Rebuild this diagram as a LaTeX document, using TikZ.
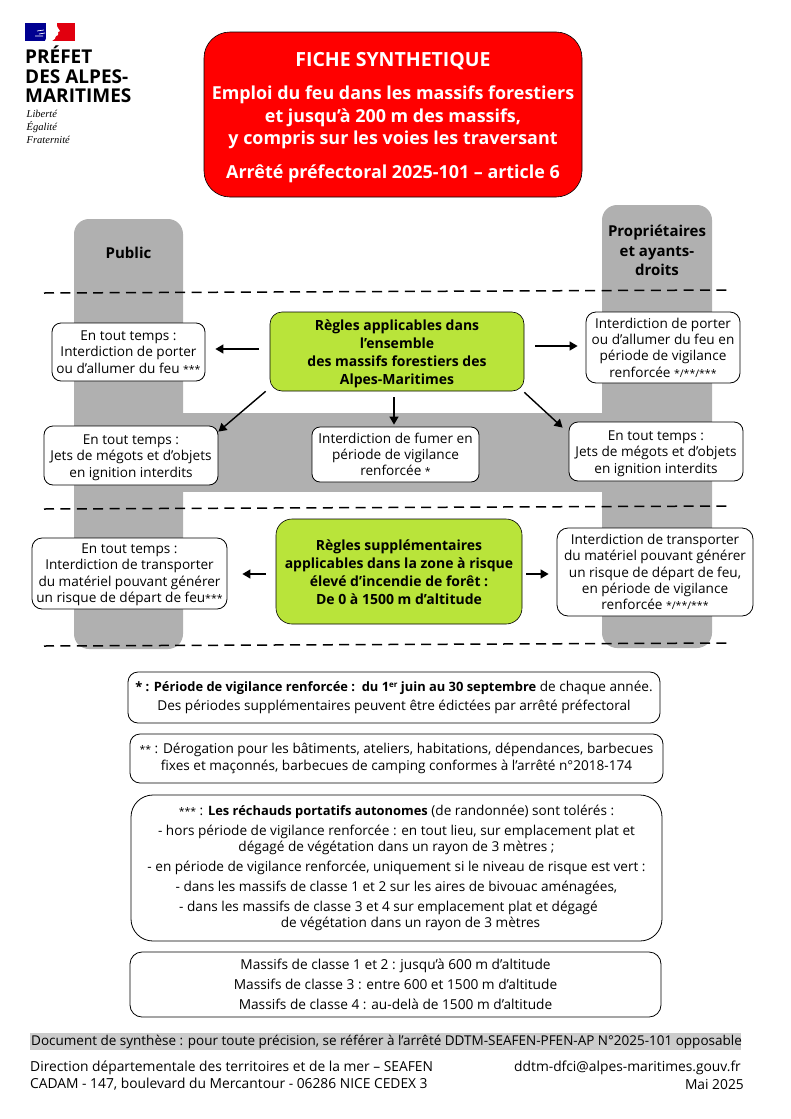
\documentclass[tikz,border=0pt]{standalone}
\usepackage{fontspec}
\setmainfont{Open Sans}
\newfontfamily\serifit{Liberation Serif}
\usetikzlibrary{arrows.meta}
\definecolor{bandgray}{HTML}{B0B0B0}
\definecolor{docgray}{HTML}{CCCCCC}
\definecolor{limeg}{HTML}{B9E43A}
\definecolor{flagblue}{HTML}{000091}
\definecolor{flagred}{HTML}{E1000F}
\newcommand{\fsz}[2]{\fontsize{#1}{#2}\selectfont}
\newcommand{\dn}[1]{\rule{0pt}{#1pt}}
\newcommand{\bfn}[1]{{\bfseries\fsz{12.9}{16}#1}}
\newcommand{\stars}[1]{{\fsz{10.5}{10}#1}}
\tikzset{
  x=1pt,y=-1pt,
  band/.style={fill=bandgray,draw=none},
  rule/.style={draw=black,line width=1.5pt,dash pattern=on 10pt off 6.4pt},
  note/.style={draw=black,line width=0.8pt,fill=white,rounded corners=#1,align=center,inner sep=0pt,text=black},
  note/.default=10pt,
  bodytxt/.style={font=\fsz{13.6}{16.3}},
  green/.style={draw=black,line width=0.6pt,fill=limeg,rounded corners=#1,align=center,inner sep=0pt,font=\bfseries\fsz{14}{18}},
  arr/.style={draw=black,line width=1.4pt,-{Triangle[length=8pt,width=9pt]}},
  lab/.style={align=center,inner sep=0pt,font=\bfseries\fsz{15}{19.5}},
  plain/.style={anchor=west,inner sep=0pt,font=\fsz{13.8}{16}},
}
\begin{document}
\begin{tikzpicture}
\useasboundingbox (0,0) rectangle (790,1119);
% flag
\fill[flagblue] (25,23) rectangle (46,41);
\fill[flagred] (52,23) rectangle (75,41);
\fill[white] (45,41) .. controls (48,36) and (47,30) .. (48,23) -- (57,23) .. controls (56,27) and (59,29) .. (60,31) -- (58,32) .. controls (59,35) and (57,36) .. (56,36) .. controls (56,38) and (54,40) .. (52,41) -- cycle;
\draw[white,line width=0.7pt] (37,31) -- (44,30) (39,34) -- (45,33) (35,36) -- (43,36);
% logo text
\node[anchor=north west,inner sep=0pt,align=left,font=\bfseries\fsz{19}{19.2}] (logo) at (25,46) {PRÉFET\\DES ALPES-\\MARITIMES};
\node[anchor=north west,inner sep=0pt,align=left,font=\serifit\itshape\fsz{10.5}{12.6}] (devise) at (26.5,110.5) {Liberté\\Égalité\\Fraternité};
% title
\node[draw=black,line width=0.6pt,fill=red,rounded corners=26pt,minimum width=378pt,minimum height=165pt,inner sep=0pt,align=center,text=white,font=\bfseries\fsz{17.9}{22.5}] (title) at (393,114.5) {\dn{20}{\fsz{19.5}{22.5}FICHE SYNTHETIQUE}\\[10.5pt]Emploi du feu dans les massifs forestiers\\et jusqu’à 200 m des massifs,\\y compris sur les voies les traversant\\[11pt]Arrêté préfectoral 2025-101 – article 6};
% grey bands
\fill[band] (183,413) rectangle (602,492);
\fill[band,rounded corners=15pt] (74,219) rectangle (183,649);
\fill[band,rounded corners=15pt] (602,205) rectangle (712,648);
\node[lab] (public) at (128.5,253) {Public};
\node[lab] (prop) at (657,250.5) {Propriétaires\\et ayants-\\droits};
% rules
\coordinate (r1a) at (44,293); \coordinate (r1b) at (731,290);
\coordinate (r2a) at (44,509); \coordinate (r2b) at (731,506);
\coordinate (r3a) at (44,646); \coordinate (r3b) at (731,643);
\draw[rule] (r1a) -- (r1b);
\draw[rule] (r2a) -- (r2b);
\draw[rule] (r3a) -- (r3b);
% green
\node[green=12pt,minimum width=254pt,minimum height=79pt] (g1) at (397,351.5) {\dn{16}Règles applicables dans\\l’ensemble\\des massifs forestiers des\\Alpes-Maritimes};
\node[green=16pt,minimum width=246pt,minimum height=105pt] (g2) at (399,571.5) {\dn{13}Règles supplémentaires\\applicables dans la zone à risque\\élevé d’incendie de forêt :\\De 0 à 1500 m d’altitude};
% boxes
\node[note=9pt,bodytxt,minimum width=153pt,minimum height=58pt] (a1) at (128.5,352) {En tout temps :\\Interdiction de porter\\ou d’allumer du feu \stars{***}};
\node[note=9pt,bodytxt,minimum width=174pt,minimum height=59pt] (a2) at (131,455.5) {\dn{14}En tout temps :\\Jets de mégots et d’objets\\en ignition interdits};
\node[note=10pt,bodytxt,minimum width=195pt,minimum height=71pt] (a3) at (129.5,573.5) {\dn{12}En tout temps :\\Interdiction de transporter\\du matériel pouvant générer\\un risque de départ de feu\stars{***}};
\node[note=8pt,bodytxt,minimum width=167pt,minimum height=55pt] (c1) at (395.5,454.5) {Interdiction de fumer en\\période de vigilance\\renforcée \stars{*}};
\node[note=10pt,bodytxt,minimum width=154pt,minimum height=71pt] (b1) at (663,347.5) {Interdiction de porter\\ou d’allumer du feu en\\période de vigilance\\renforcée \stars{*/**/***}};
\node[note=9pt,bodytxt,minimum width=174pt,minimum height=59pt] (b2) at (656,451.5) {\dn{14}En tout temps :\\Jets de mégots et d’objets\\en ignition interdits};
\node[note=11pt,bodytxt,minimum width=196pt,minimum height=88pt] (b3) at (655,572) {Interdiction de transporter\\du matériel pouvant générer\\un risque de départ de feu,\\en période de vigilance\\renforcée \stars{*/**/***}};
% arrows
\draw[arr] ([xshift=-11pt,yshift=2.5pt]g1.west) -- ([xshift=10pt,yshift=3pt]a1.east);
\draw[arr] ([xshift=-4pt]g1.south west) -- ([yshift=-6pt]a2.north east);
\draw[arr] ([xshift=-3pt,yshift=-6pt]g1.south) -- ([xshift=-1.5pt,yshift=2pt]c1.north);
\draw[arr] ([xshift=11pt,yshift=5.5pt]g1.east) -- ([xshift=-8pt,yshift=1.5pt]b1.west);
\draw[arr] ([yshift=-1pt]g1.south east) -- ([xshift=-6pt,yshift=-6pt]b2.north west);
\draw[arr] ([xshift=-10pt,yshift=-2.5pt]g2.west) -- ([xshift=15pt,yshift=-0.5pt]a3.east);
\draw[arr] ([xshift=4pt,yshift=-2.5pt]g2.east) -- ([xshift=-8pt,yshift=-2pt]b3.west);
% notes
\node[note=10pt,bodytxt,minimum width=532pt,minimum height=51pt] (n1) at (394,697.5) {\bfn{* : Période de vigilance renforcée :\ \ du 1\raisebox{3.5pt}{\fsz{8}{8}er} juin au 30 septembre} de chaque année.\\[3pt]Des périodes supplémentaires peuvent être édictées par arrêté préfectoral};
\node[note=10pt,bodytxt,minimum width=533pt,minimum height=49pt] (n2) at (396.5,758.5) {\stars{**} : Dérogation pour les bâtiments, ateliers, habitations, dépendances, barbecues\\[1pt]fixes et maçonnés, barbecues de camping conformes à l’arrêté n°2018-174};
\node[note=22pt,bodytxt,minimum width=531pt,minimum height=146pt] (n3) at (396.5,868) {\stars{***} : \bfn{Les réchauds portatifs autonomes} (de randonnée) sont tolérés :\\[3.7pt]- hors période de vigilance renforcée : en tout lieu, sur emplacement plat et\\dégagé de végétation dans un rayon de 3 mètres ;\\[4pt]- en période de vigilance renforcée, uniquement si le niveau de risque est vert :\\[3.2pt]- dans les massifs de classe 1 et 2 sur les aires de bivouac aménagées,\\[3.7pt]\hspace*{-16pt}- dans les massifs de classe 3 et 4 sur emplacement plat et dégagé\\\hspace*{28pt}de végétation dans un rayon de 3 mètres};
\node[note=12pt,minimum width=531pt,minimum height=65pt,font=\fsz{13.7}{20}] (n4) at (395.5,984.5) {Massifs de classe 1 et 2 : jusqu’à 600 m d’altitude\\Massifs de classe 3 : entre 600 et 1500 m d’altitude\\Massifs de classe 4 : au-delà de 1500 m d’altitude};
% footer
\fill[docgray] (30,1033) rectangle (741,1050);
\node[plain,font=\fsz{13.5}{16}] (doc) at (31,1042) {Document de synthèse : pour toute précision, se référer à l’arrêté DDTM-SEAFEN-PFEN-AP N°2025-101 opposable};
\node[plain] (f1) at (30,1068) {Direction départementale des territoires et de la mer – SEAFEN};
\node[plain] (f2) at (30,1084) {CADAM - 147, boulevard du Mercantour - 06286 NICE CEDEX 3};
\node[plain,anchor=east] (f3) at (741,1068) {ddtm-dfci@alpes-maritimes.gouv.fr};
\node[plain,anchor=east] (f4) at (744,1084) {Mai 2025};
\end{tikzpicture}
\end{document}
